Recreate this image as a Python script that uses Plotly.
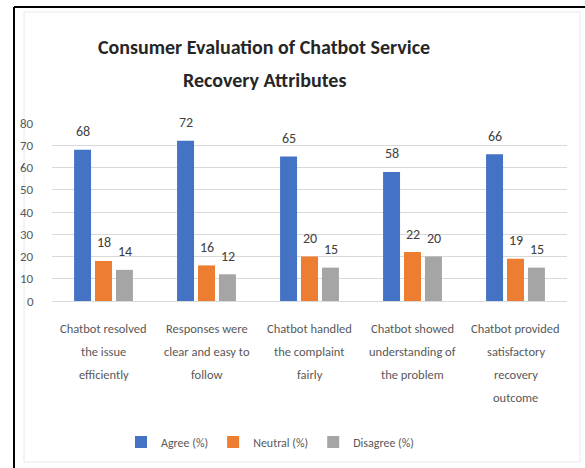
import plotly.graph_objects as go

# Survey results per service-recovery attribute
categories = [
    "Chatbot resolved\nthe issue\nefficiently",
    "Responses were\nclear and easy to\nfollow",
    "Chatbot handled\nthe complaint\nfairly",
    "Chatbot showed\nunderstanding of\nthe problem",
    "Chatbot provided\nsatisfactory\nrecovery\noutcome",
]
agree = [68, 72, 65, 58, 66]
neutral = [18, 16, 20, 22, 19]
disagree = [14, 12, 15, 20, 15]

series_names = ["Agree (%)", "Neutral (%)", "Disagree (%)"]
series_values = [agree, neutral, disagree]
series_colors = ["#4472C4", "#ED7D31", "#A5A5A5"]

title_lines = ["Consumer Evaluation of Chatbot Service", "Recovery Attributes"]
y_ticks = [0, 10, 20, 30, 40, 50, 60, 70, 80]

FONT = "Carlito, 'Liberation Sans Narrow', Lato, 'DejaVu Sans Condensed', sans-serif"
TEXT_GREY = "#595959"

# Plot-area geometry in pixels
W, H = 585, 468
ML, MR, MT, MB = 52, 18, 123, 167
PW, PH = W - ML - MR, H - MT - MB


def py(p):
    """Pixel row -> paper y."""
    return (H - MB - p) / PH


def px(p):
    """Pixel column -> paper x."""
    return (p - ML) / PW


fig = go.Figure()
for name, vals, color in zip(series_names, series_values, series_colors):
    fig.add_trace(go.Bar(
        name=name,
        x=categories,
        y=vals,
        marker=dict(color=color, line=dict(width=0)),
    ))

annotations = []

# Value labels above each bar
offsets = [-21, 0, 21]
for vals, dx in zip(series_values, offsets):
    for cat, v in zip(categories, vals):
        annotations.append(dict(
            x=cat, y=v, xref="x", yref="y", text=str(v), showarrow=False,
            xshift=dx, yshift=18, yanchor="middle",
            font=dict(family=FONT, size=14, color="#404040"),
        ))

# Category labels, one line at a time
for cat in categories:
    for i, line in enumerate(cat.split("\n")):
        annotations.append(dict(
            x=cat, y=py(328 + 23 * i), xref="x", yref="paper", text=line,
            showarrow=False, yanchor="middle",
            font=dict(family=FONT, size=12.5, color=TEXT_GREY),
        ))

# Y-axis tick labels, right-aligned a little left of the plot area
for t in y_ticks:
    annotations.append(dict(
        x=px(36), y=t, xref="paper", yref="y", text=str(t), showarrow=False,
        xanchor="right", yanchor="middle",
        font=dict(family=FONT, size=13, color=TEXT_GREY),
    ))

# Two-line chart title
for i, line in enumerate(title_lines):
    annotations.append(dict(
        x=px(264), y=py(47 + 33 * i), xref="paper", yref="paper", text=f"<b>{line}</b>",
        showarrow=False, xanchor="center", yanchor="middle",
        font=dict(family=FONT, size=20, color="#262626"),
    ))

shapes = [
    # light chart-area frame
    dict(type="rect", xref="paper", yref="paper",
         x0=px(24), x1=px(580), y0=py(462), y1=py(12),
         line=dict(color="#e8e8e8", width=1), fillcolor="rgba(0,0,0,0)", layer="below"),
    # outer black rules (left and top)
    dict(type="line", xref="paper", yref="paper",
         x0=px(14), x1=px(14), y0=py(7), y1=py(470),
         line=dict(color="#000000", width=2)),
    dict(type="line", xref="paper", yref="paper",
         x0=px(14), x1=px(590), y0=py(7), y1=py(7),
         line=dict(color="#000000", width=2)),
]

fig.update_layout(
    width=W, height=H,
    margin=dict(l=ML, r=MR, t=MT, b=MB, autoexpand=False),
    paper_bgcolor="white", plot_bgcolor="white",
    barmode="group", bargap=0.39, bargroupgap=0.19,
    font=dict(family=FONT, color=TEXT_GREY),
    showlegend=True,
    legend=dict(
        orientation="h", x=px(270), xanchor="center", y=py(442), yanchor="middle",
        font=dict(family=FONT, size=12, color=TEXT_GREY),
        itemwidth=30, traceorder="normal", bgcolor="rgba(0,0,0,0)",
    ),
    annotations=annotations,
    shapes=shapes,
)

fig.update_xaxes(showticklabels=False, showgrid=False, showline=False, ticks="", zeroline=False)
fig.update_yaxes(
    range=[0, 80], tickvals=y_ticks, showticklabels=False,
    showgrid=True, gridcolor="#d9d9d9", gridwidth=1,
    zeroline=True, zerolinecolor="#d9d9d9", zerolinewidth=1, showline=False, ticks="",
)

fig.write_html("out.html")
